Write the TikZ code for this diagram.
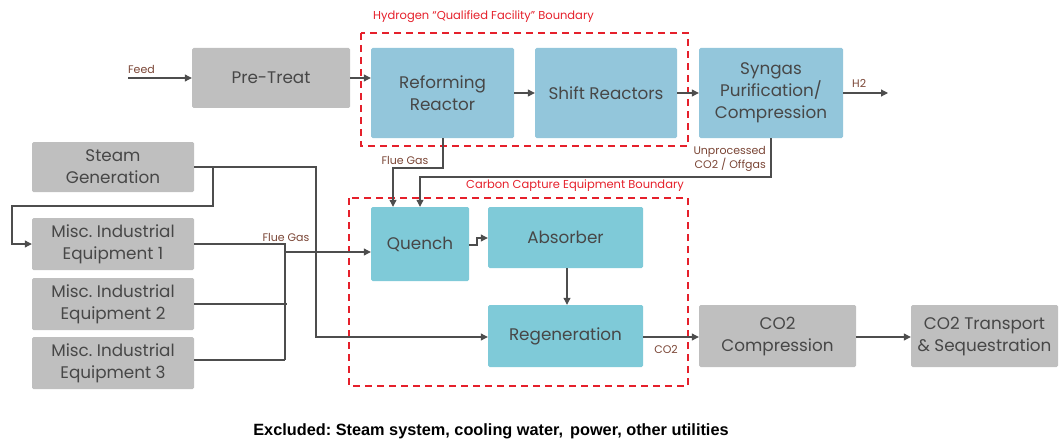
\documentclass[tikz,border=0pt]{standalone}
\usepackage{fontspec}
\setmainfont{Poppins}
\newfontfamily\arialfont{Liberation Sans}
\usetikzlibrary{arrows.meta}
\frenchspacing
\definecolor{grayBox}{HTML}{BFBFBF}
\definecolor{blueBox}{HTML}{93C6DB}
\definecolor{tealBox}{HTML}{7FCAD8}
\definecolor{lineC}{HTML}{4D4D4D}
\definecolor{txtC}{HTML}{474747}
\definecolor{lblC}{HTML}{7A4535}
\definecolor{redC}{HTML}{E5202B}
\tikzset{
  boxbase/.style={rounded corners=1.5pt, inner sep=0pt, align=center, text=txtC, font=\fontsize{16.8}{22}\selectfont},
  graybox/.style={boxbase, fill=grayBox},
  bluebox/.style={boxbase, fill=blueBox},
  tealbox/.style={boxbase, fill=tealBox},
  flow/.style={draw=lineC, line width=1.1pt, -{Triangle[length=7pt,width=7pt]}},
  plain/.style={draw=lineC, line width=1.1pt},
  lbl/.style={text=lblC, font=\fontsize{11}{14.5}\selectfont, inner sep=0pt},
  bound/.style={draw=redC, line width=1.6pt, dash pattern=on 7pt off 5pt},
  boundlbl/.style={text=redC, font=\fontsize{11.5}{13}\selectfont, inner sep=0pt}
}
\begin{document}
\begin{tikzpicture}[x=1pt,y=-1pt]
\useasboundingbox (0,0) rectangle (1062,441);
% boxes
\node[graybox, minimum width=158pt, minimum height=60pt] (pre) at (271,78) {Pre-Treat};
\node[bluebox, minimum width=143pt, minimum height=90pt] (ref) at (442.5,93) {Reforming\\Reactor};
\node[bluebox, minimum width=142pt, minimum height=90pt] (shift) at (606,93) {Shift Reactors};
\node[bluebox, minimum width=144pt, minimum height=90pt] (syn) at (771,93) {Syngas\\Purification/\\Compression};
\node[graybox, minimum width=162pt, minimum height=50pt] (steam) at (113,167) {Steam\\Generation};
\node[graybox, minimum width=162pt, minimum height=52pt] (m1) at (113,244) {Misc. Industrial\\Equipment 1};
\node[graybox, minimum width=162pt, minimum height=52pt] (m2) at (113,304) {Misc. Industrial\\Equipment 2};
\node[graybox, minimum width=162pt, minimum height=52pt] (m3) at (113,363) {Misc. Industrial\\Equipment 3};
\node[tealbox, minimum width=98pt, minimum height=74pt] (q) at (420,244) {Quench};
\node[tealbox, minimum width=155pt, minimum height=61pt] (abs) at (565.5,237.5) {Absorber};
\node[tealbox, minimum width=155pt, minimum height=62pt] (reg) at (565.5,336) {Regeneration};
\node[graybox, minimum width=157pt, minimum height=62pt] (cc) at (777.5,336) {CO2\\Compression};
\node[graybox, minimum width=147pt, minimum height=62pt] (ts) at (984.5,336) {CO2 Transport\\\& Sequestration};
% boundaries
\draw[bound] (361,33) rectangle (688,146);
\node[boundlbl, anchor=west] (hlbl) at (373,17) {Hydrogen “Qualified Facility” Boundary};
\draw[bound] (349,198) rectangle (688,386);
\node[boundlbl, anchor=east] (clbl) at (684,186) {Carbon Capture Equipment Boundary};
% coordinates
\coordinate (feedin) at (128,78);
\coordinate (h2out) at (888,93);
% top flow
\draw[flow] (feedin) -- (pre.west);
\node[lbl, anchor=south west] (feedl) at (128,74) {Feed};
\draw[flow] (pre.east) -- (ref.west |- pre.east);
\draw[flow] (ref.east) -- (shift.west);
\draw[flow] (shift.east) -- (syn.west);
\draw[flow] (syn.east) -- (h2out);
\node[lbl, anchor=south west] (h2l) at (852,88) {H2};
% flue gas from reformer
\draw[flow] (ref.south -| 443,0) |- (393,168) -- (393,0 |- q.north);
\node[lbl] (fg1) at (405,160) {Flue Gas};
% unprocessed CO2
\draw[flow] (syn.south) |- (420,177) -- (420,0 |- q.north);
\node[lbl, anchor=east, align=right] (unp) at (766,159) {Unprocessed\\CO2 / Offgas};
% steam generation
\draw[flow] (steam.east) -- (316,167) |- (reg.west |- 0,337);
\draw[flow] (213,167) |- (12,206) |- (m1.west);
% misc equipment collector
\draw[plain] (194,244) -- (285,244) -- (285,360);
\draw[plain] (m2.east) -- (287,304);
\draw[plain] (m3.east |- 0,360) -- (285,360);
\draw[flow] (285,252) -- (q.west |- 0,252);
\node[lbl] (fg2) at (286,237) {Flue Gas};
% capture internals
\draw[flow] (q.east |- 0,245) -- (477,245) -- (477,238) -- (abs.west |- 0,238);
\draw[flow] (abs.south -| 567,0) -- (reg.north -| 567,0);
\draw[flow] (reg.east |- 0,337) -- (cc.west |- 0,337);
\node[lbl] (co2l) at (666,349) {CO2};
\draw[flow] (cc.east |- 0,337) -- (ts.west |- 0,337);
% footer
\node[font=\arialfont\bfseries\fontsize{16.3}{18}\selectfont, text=black] (excl) at (491,431) {Excluded: Steam system, cooling water,\hspace{0.15em} power, other utilities};
\end{tikzpicture}
\end{document}
